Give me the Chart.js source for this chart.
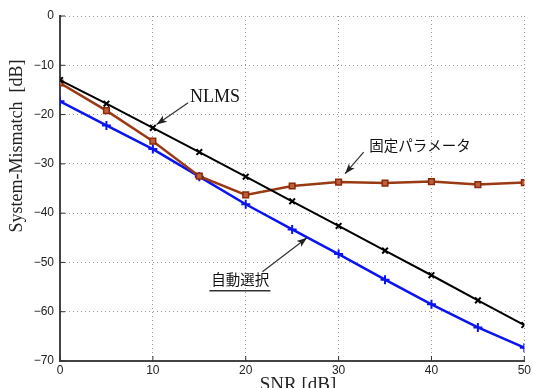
<!DOCTYPE html>
<html>
<head>
<meta charset="utf-8">
<script src="https://cdn.jsdelivr.net/npm/chart.js@4"></script>
<style>
  html, body { margin: 0; padding: 0; background: #fff; }
  #wrap { width: 533px; height: 388px; }
</style>
</head>
<body>
<div id="wrap"><canvas id="chart" width="533" height="388"></canvas></div>
<script>
const snr = [0, 5, 10, 15, 20, 25, 30, 35, 40, 45, 50];
const nlms = [-13, -17.8, -22.7, -27.6, -32.6, -37.6, -42.6, -47.6, -52.6, -57.7, -62.7];
const fixedParam = [-13.6, -19.2, -25.4, -32.5, -36.3, -34.5, -33.7, -33.9, -33.6, -34.2, -33.8];
const autoSelect = [-17.3, -22.2, -27, -32.6, -38.2, -43.3, -48.3, -53.5, -58.5, -63.2, -67.3];
const xTicks = [0, 10, 20, 30, 40, 50];
const yTicks = [0, -10, -20, -30, -40, -50, -60, -70];

const toPts = ys => ys.map((y, i) => ({ x: snr[i], y: y }));

// arrows + labels drawn in data space
const notes = [
  { text: 'NLMS', font: '18px "Liberation Serif", serif', tx: 14.0, ty: -16.4, fx: 13.8, fy: -17.6, hx: 10.4, hy: -22.0 },
  { text: '固定パラメータ', font: '14.5px "Noto Sans CJK JP", sans-serif', tx: 33.3, ty: -26.2, fx: 32.7, fy: -27.6, hx: 30.7, hy: -32.0 },
  { text: '自動選択', font: '14.5px "Noto Sans CJK JP", sans-serif', tx: 16.3, ty: -53.5, fx: 21.8, fy: -51.9, hx: 26.6, hy: -45.0, underline: true }
];

const extras = {
  id: 'extras',
  afterDraw(c) {
    const ctx = c.ctx, xs = c.scales.x, ys = c.scales.y, a = c.chartArea;
    ctx.save();
    // inward ticks
    ctx.strokeStyle = '#333';
    ctx.lineWidth = 1;
    xTicks.forEach(v => {
      const px = xs.getPixelForValue(v);
      ctx.beginPath(); ctx.moveTo(px, a.bottom); ctx.lineTo(px, a.bottom - 5); ctx.stroke();
    });
    yTicks.forEach(v => {
      const py = ys.getPixelForValue(v);
      ctx.beginPath(); ctx.moveTo(a.left, py); ctx.lineTo(a.left + 5, py); ctx.stroke();
    });
    // axis titles
    ctx.fillStyle = '#222';
    ctx.font = '19px "Liberation Serif", serif';
    ctx.textAlign = 'center';
    ctx.textBaseline = 'top';
    ctx.fillText('SNR [dB]', 298, 376);
    ctx.save();
    ctx.translate(17, 146);
    ctx.rotate(-Math.PI / 2);
    ctx.textBaseline = 'middle';
    ctx.font = '18px "Liberation Serif", serif';
    ctx.fillText('System-Mismatch  [dB]', 0, 0);
    ctx.restore();
    // annotations
    notes.forEach(n => {
      const tx = xs.getPixelForValue(n.tx), ty = ys.getPixelForValue(n.ty);
      ctx.font = n.font;
      ctx.fillStyle = '#111';
      ctx.textAlign = 'left';
      ctx.textBaseline = 'middle';
      ctx.fillText(n.text, tx, ty);
      if (n.underline) {
        const w = ctx.measureText(n.text).width;
        ctx.strokeStyle = '#333';
        ctx.lineWidth = 1.5;
        ctx.beginPath(); ctx.moveTo(tx - 2, ty + 11); ctx.lineTo(tx + w + 1, ty + 11); ctx.stroke();
      }
      const fx = xs.getPixelForValue(n.fx), fy = ys.getPixelForValue(n.fy);
      const hx = xs.getPixelForValue(n.hx), hy = ys.getPixelForValue(n.hy);
      ctx.strokeStyle = '#333';
      ctx.lineWidth = 1.2;
      ctx.beginPath(); ctx.moveTo(fx, fy); ctx.lineTo(hx, hy); ctx.stroke();
      const ang = Math.atan2(hy - fy, hx - fx), L = 11, W = 0.35;
      ctx.fillStyle = '#222';
      ctx.beginPath();
      ctx.moveTo(hx, hy);
      ctx.lineTo(hx - L * Math.cos(ang - W), hy - L * Math.sin(ang - W));
      ctx.lineTo(hx - L * 0.7 * Math.cos(ang), hy - L * 0.7 * Math.sin(ang));
      ctx.lineTo(hx - L * Math.cos(ang + W), hy - L * Math.sin(ang + W));
      ctx.closePath();
      ctx.fill();
    });
    ctx.restore();
  }
};

new Chart(document.getElementById('chart'), {
  type: 'line',
  data: {
    datasets: [
      {
        label: 'NLMS', data: toPts(nlms),
        borderColor: '#000', borderWidth: 2,
        pointStyle: 'crossRot', pointRadius: 4, pointBorderColor: '#000', pointBorderWidth: 2
      },
      {
        label: '固定パラメータ', data: toPts(fixedParam),
        borderColor: '#9a3a14', borderWidth: 2.5,
        pointStyle: 'rect', pointRadius: 4, pointBorderColor: '#8a2a0a', pointBackgroundColor: '#c0603a', pointBorderWidth: 1.5
      },
      {
        label: '自動選択', data: toPts(autoSelect),
        borderColor: '#0a14f0', borderWidth: 2.5,
        pointStyle: 'cross', pointRadius: 4.5, pointBorderColor: '#0a14f0', pointBorderWidth: 2
      }
    ]
  },
  options: {
    responsive: false,
    animation: false,
    layout: { padding: { top: 16, right: 7, left: 0, bottom: 0 } },
    plugins: { legend: { display: false }, tooltip: { enabled: false } },
    scales: {
      x: {
        type: 'linear', min: 0, max: 50,
        afterFit: s => { s.height = 27; },
        afterBuildTicks: s => { s.ticks = xTicks.map(v => ({ value: v })); },
        grid: { color: '#999', lineWidth: 1, drawTicks: false },
        border: { display: true, color: '#444', width: 2, dash: [1, 3] },
        ticks: { color: '#222', font: { family: '"Liberation Sans", sans-serif', size: 12 }, padding: 2, maxRotation: 0 }
      },
      y: {
        type: 'linear', min: -70, max: 0,
        afterFit: s => { s.width = 60; },
        afterBuildTicks: s => { s.ticks = yTicks.map(v => ({ value: v })); },
        grid: { color: '#999', lineWidth: 1, drawTicks: false },
        border: { display: true, color: '#444', width: 2, dash: [1, 3] },
        ticks: { color: '#222', font: { family: '"Liberation Sans", sans-serif', size: 12 }, padding: 6,
          callback: v => v === 0 ? '0' : '\u2212' + Math.abs(v) }
      }
    }
  },
  plugins: [extras]
});
</script>
</body>
</html>
